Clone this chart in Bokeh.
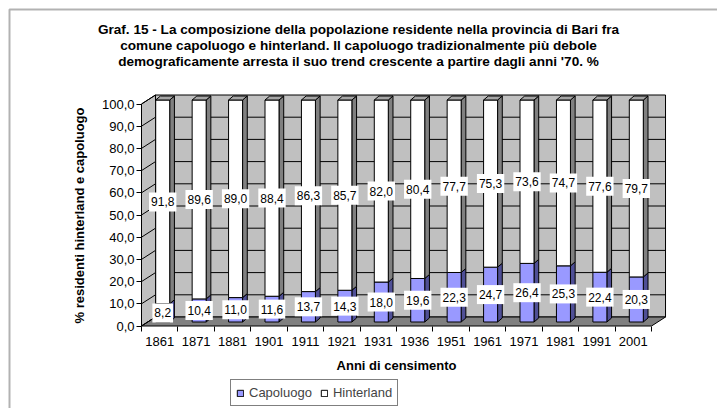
from bokeh.plotting import figure
from bokeh.models import Range1d, FixedTicker, Label, Legend, LegendItem, BoxAnnotation
from bokeh.core.properties import value
from bokeh.embed import file_html
from bokeh.resources import INLINE

# ---------------- data ----------------
years = ["1861", "1871", "1881", "1901", "1911", "1921", "1931",
         "1936", "1951", "1961", "1971", "1981", "1991", "2001"]
capoluogo = [8.2, 10.4, 11.0, 11.6, 13.7, 14.3, 18.0,
             19.6, 22.3, 24.7, 26.4, 25.3, 22.4, 20.3]
hinterland = [91.8, 89.6, 89.0, 88.4, 86.3, 85.7, 82.0,
              80.4, 77.7, 75.3, 73.6, 74.7, 77.6, 79.7]
series_names = ["Capoluogo", "Hinterland"]
y_ticks = [0, 10, 20, 30, 40, 50, 60, 70, 80, 90, 100]
title_lines = [
    "Graf. 15 - La composizione della popolazione residente nella provincia di Bari fra",
    "comune capoluogo e hinterland. Il capoluogo tradizionalmente più debole",
    "demograficamente arresta il suo trend crescente a partire dagli anni '70. %",
]
x_title = "Anni di censimento"
y_title = "% residenti hinterland e capoluogo"

# ---------------- styling / geometry ----------------
FONT = "Liberation Sans"
W, H = 717, 408          # canvas size (the frame covers the whole canvas)
ORIGIN_X, ORIGIN_Y = 141, 325.5   # pixel position of the front-left corner of the floor
PX_X = 36.43   # pixels per category
PX_Y = 2.22    # pixels per percent
WALL_DX = 14 / PX_X
WALL_DY = 9 / PX_Y
BAR_W = 14 / PX_X
BAR_SX = 3 / PX_X
BAR_SY = 4 / PX_Y
BAR_DX = 4.7 / PX_X
BAR_DY = 4 / PX_Y

n = len(years)
ymax = y_ticks[-1]

x_start = -ORIGIN_X / PX_X
x_end = (W - ORIGIN_X) / PX_X
y_start = -(H - ORIGIN_Y) / PX_Y
y_end = ORIGIN_Y / PX_Y

p = figure(width=W, height=H,
           x_range=Range1d(x_start, x_end), y_range=Range1d(y_start, y_end),
           output_backend="svg", toolbar_location=None,
           min_border=0, min_border_left=0, min_border_right=0,
           min_border_top=0, min_border_bottom=0)
p.title.visible = False
p.outline_line_color = None
p.grid.visible = False
p.background_fill_color = "white"
p.border_fill_color = "white"

# walls and floor
p.quad(left=[WALL_DX], right=[n + WALL_DX], bottom=[WALL_DY], top=[ymax + WALL_DY],
       fill_color="#C0C0C0", line_color="black", line_width=1)
p.patch(x=[0, 0, WALL_DX, WALL_DX], y=[0, ymax, ymax + WALL_DY, WALL_DY],
        fill_color="#C0C0C0", line_color="black", line_width=1)
p.patch(x=[0, n, n + WALL_DX, WALL_DX], y=[0, 0, WALL_DY, WALL_DY],
        fill_color="#808080", line_color="black", line_width=1)

inner = y_ticks[1:-1]
p.segment(x0=[WALL_DX] * len(inner), y0=[v + WALL_DY for v in inner],
          x1=[n + WALL_DX] * len(inner), y1=[v + WALL_DY for v in inner],
          line_color="black", line_width=1)
p.segment(x0=[0] * len(y_ticks), y0=y_ticks,
          x1=[WALL_DX] * len(y_ticks), y1=[v + WALL_DY for v in y_ticks],
          line_color="black", line_width=1)

# bars
cx = [i + 0.5 + BAR_SX for i in range(n)]
left = [c - BAR_W / 2 for c in cx]
right = [c + BAR_W / 2 for c in cx]
cap_b = [BAR_SY] * n
cap_t = [BAR_SY + v for v in capoluogo]
hin_b = cap_t
hin_t = [b + v for b, v in zip(hin_b, hinterland)]


def side(bot, top):
    xs = [[r, r + BAR_DX, r + BAR_DX, r] for r in right]
    ys = [[b, b + BAR_DY, t + BAR_DY, t] for b, t in zip(bot, top)]
    return xs, ys


xs, ys = side(cap_b, cap_t)
p.patches(xs=xs, ys=ys, fill_color="#4F4F96", line_color="black", line_width=1)
cap_r = p.quad(left=left, right=right, bottom=cap_b, top=cap_t,
               fill_color="#9999FF", line_color="black", line_width=1)

xs, ys = side(hin_b, hin_t)
p.patches(xs=xs, ys=ys, fill_color="#808080", line_color="black", line_width=1)
hin_r = p.quad(left=left, right=right, bottom=hin_b, top=hin_t,
               fill_color="white", line_color="black", line_width=1)
top_xs = [[l, l + BAR_DX, r + BAR_DX, r] for l, r in zip(left, right)]
top_ys = [[t, t + BAR_DY, t + BAR_DY, t] for t in hin_t]
p.patches(xs=top_xs, ys=top_ys, fill_color="#A6A6A6", line_color="black", line_width=1)


# data labels
def fmt(v):
    return f"{v:.1f}".replace(".", ",")


lab_x = cx + cx
lab_y = [(b + t) / 2 for b, t in zip(cap_b, cap_t)] + [(b + t) / 2 for b, t in zip(hin_b, hin_t)]
lab_t = [fmt(v) for v in capoluogo] + [fmt(v) for v in hinterland]
p.text(x=lab_x, y=lab_y, text=lab_t, text_align="center", text_baseline="middle",
       text_font=value(FONT), text_font_size="12px", text_color="black",
       background_fill_color="white", padding=(2, 5))

# axes (drawn inside the frame at the front edges of the 3-D box)
p.yaxis.fixed_location = 0
p.yaxis.bounds = (y_ticks[0], y_ticks[-1])
p.yaxis.ticker = FixedTicker(ticks=y_ticks)
p.yaxis.major_label_overrides = {v: fmt(v) for v in y_ticks}
p.yaxis.axis_line_color = None
p.yaxis.major_tick_out = 5
p.yaxis.major_tick_in = 0
p.yaxis.minor_tick_out = 0
p.yaxis.minor_tick_in = 0
p.yaxis.major_tick_line_color = "black"
p.yaxis.major_label_standoff = 2
p.yaxis.major_label_text_font = FONT
p.yaxis.major_label_text_font_size = "13px"
p.yaxis.major_label_text_color = "black"
p.yaxis.axis_label = y_title
p.yaxis.axis_label_text_font = FONT
p.yaxis.axis_label_text_font_style = "bold"
p.yaxis.axis_label_text_font_size = "13px"
p.yaxis.axis_label_text_color = "black"
p.yaxis.axis_label_standoff = 12

centers = [i + 0.5 for i in range(n)]
p.xaxis.fixed_location = 0
p.xaxis.bounds = (0, n)
p.xaxis.ticker = FixedTicker(ticks=centers, minor_ticks=list(range(n + 1)))
p.xaxis.major_label_overrides = {c: y for c, y in zip(centers, years)}
p.xaxis.axis_line_color = None
p.xaxis.major_tick_out = 0
p.xaxis.major_tick_in = 0
p.xaxis.minor_tick_out = 5
p.xaxis.minor_tick_in = 0
p.xaxis.minor_tick_line_color = "black"
p.xaxis.major_label_standoff = 6
p.xaxis.major_label_text_font = FONT
p.xaxis.major_label_text_font_size = "13px"
p.xaxis.major_label_text_color = "black"
p.xaxis.axis_label = x_title
p.xaxis.axis_label_text_font = FONT
p.xaxis.axis_label_text_font_style = "bold"
p.xaxis.axis_label_text_font_size = "13px"
p.xaxis.axis_label_text_color = "black"
p.xaxis.axis_label_standoff = 8

# legend
legend = Legend(items=[LegendItem(label=series_names[0], renderers=[cap_r]),
                       LegendItem(label=series_names[1], renderers=[hin_r])],
                orientation="horizontal", location=(230, 2),
                border_line_color="black", border_line_width=1,
                background_fill_color="white", background_fill_alpha=1,
                padding=5, spacing=8, label_standoff=5,
                glyph_width=8, glyph_height=8, label_height=13,
                label_text_font=FONT, label_text_font_size="13px",
                margin=0)
p.add_layout(legend)

# title
title = Label(x=358, y=H - 45, x_units="screen", y_units="screen",
              text="\n".join(title_lines), text_align="center", text_baseline="middle",
              text_font=FONT, text_font_style="bold", text_font_size="13.6px",
              text_line_height=1.09, text_color="black")
p.add_layout(title)

# chart-area border (left and top edges visible)
border = BoxAnnotation(left=9, right=W + 100, top=H - 9, bottom=-100,
                       left_units="screen", right_units="screen",
                       top_units="screen", bottom_units="screen",
                       fill_alpha=0, line_color="black", line_width=2)
p.add_layout(border)

open("out.html", "w").write(file_html(p, INLINE))
